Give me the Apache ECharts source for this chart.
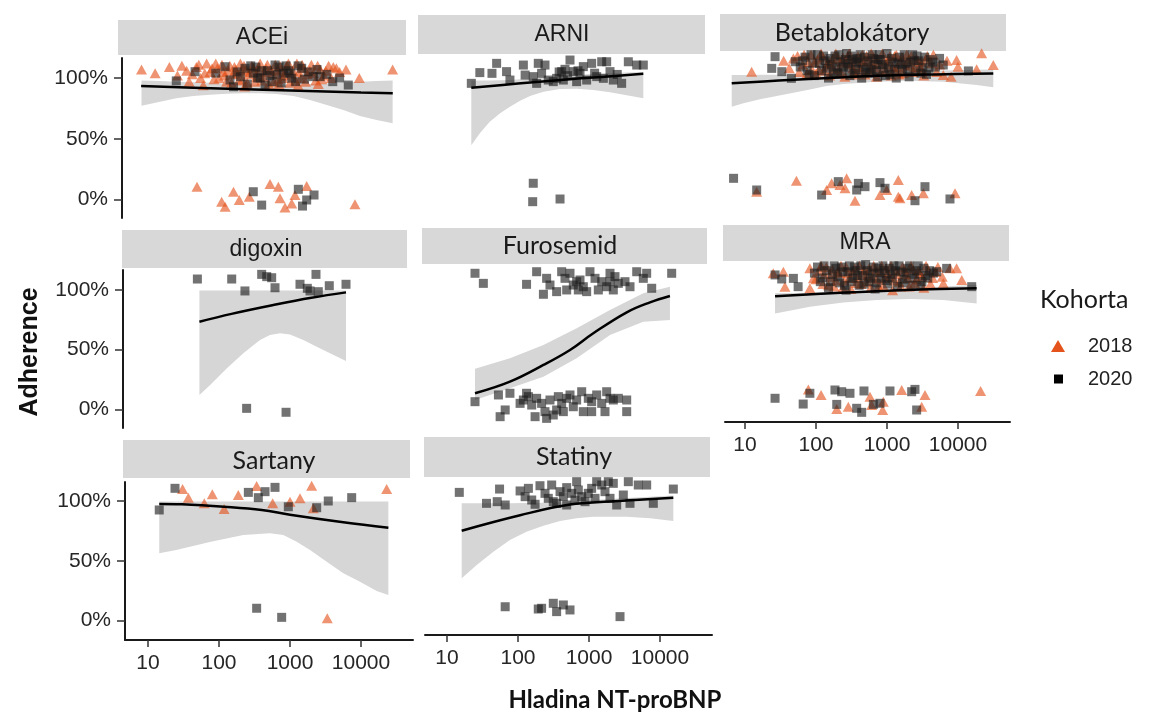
<!DOCTYPE html>
<html>
<head>
<meta charset="utf-8">
<script src="https://cdn.jsdelivr.net/npm/echarts@6/dist/echarts.min.js"></script>
<style>
  html, body { margin: 0; background: #fff; }
  #chart { width: 1149px; height: 717px; }
</style>
</head>
<body>
<div id="chart"></div>
<script>
// ---- data: x = NT-proBNP, y = adherence (jittered, 1 = 100 %) ----
const panelNames = ["ACEi", "ARNI", "Betablokátory", "digoxin", "Furosemid", "MRA", "Sartany", "Statiny"];
const xTickValues = [10, 100, 1000, 10000];
const xTickLabels = ["10", "100", "1000", "10000"];
const yTickValues = [0, 0.5, 1];
const yTickLabels = ["0%", "50%", "100%"];

const acei2018 = [
  [8.1,1.07],[12.6,1.04],[20,1.09],[26,1.02],[30,1.10],[35,1.06],[38,0.97],[42,1.03],[48,1.09],[52,1.11],[55,1.0],[60,0.94],
  [63,1.04],[67,1.12],[75,1.05],[80,1.08],[85,0.99],[90,1.12],[95,1.08],[100,1.0],[110,1.11],[115,1.05],[120,1.02],[128,0.97],
  [135,1.06],[142,1.1],[150,0.96],[158,1.03],[165,1.09],[172,1.07],[180,1.04],[190,0.98],[200,1.12],[208,1.06],[215,0.99],
  [225,1.1],[230,0.93],[240,1.07],[250,0.96],[260,1.03],[275,1.05],[290,1.10],[305,1.08],[320,0.97],[335,1.01],[350,1.05],
  [365,1.09],[380,1.12],[400,0.98],[420,1.01],[440,1.05],[460,1.08],[480,1.11],[500,0.95],[530,1.07],[560,1.04],[590,0.97],
  [620,1.11],[650,1.06],[680,0.99],[700,0.95],[720,1.1],[750,1.07],[790,1.0],[820,1.02],[860,1.05],[900,1.10],[950,1.12],
  [1000,0.96],[1050,1.03],[1100,1.06],[1180,0.98],[1250,1.12],[1300,0.94],[1330,1.05],[1400,1.0],[1480,1.11],[1550,1.08],
  [1650,0.97],[1750,1.03],[1900,1.06],[2000,1.11],[2150,1.04],[2300,0.98],[2450,1.1],[2500,0.95],[2650,1.07],[2800,0.99],
  [3000,1.02],[3200,1.06],[3500,1.10],[3800,1.0],[4070,1.09],[4500,1.08],[5000,1.05],[6150,1.07],[9460,1.0],[27900,1.07],
  [49,0.105],[109,-0.018],[122,-0.06],[160,0.064],[193,-0.004],[267,0.023],[523,0.128],[685,0.105],[723,0.01],[850,-0.065],
  [1057,-0.032],[1175,0.037],[1718,0.111],[8220,-0.04]
];
const acei2020 = [
  [25,0.976],[46,1.052],[90,1.04],[122,1.093],[143,0.984],[160,0.928],[180,1.05],[200,1.01],[232,1.08],[250,0.95],[280,1.10],
  [304,1.039],[330,1.09],[350,1.0],[380,1.0],[400,1.06],[445,0.942],[480,1.06],[520,1.02],[560,0.97],[615,1.107],[650,1.03],
  [700,1.09],[750,0.96],[805,1.039],[880,1.1],[950,1.06],[1000,1.04],[1057,0.998],[1200,0.97],[1300,1.1],[1461,1.08],
  [1600,0.99],[1800,1.05],[2130,1.011],[2400,1.07],[2650,1.011],[3300,1.03],[4000,0.97],[5000,1.0],[6620,0.942],
  [304,0.064],[399,-0.046],[1310,0.084],[1500,-0.054],[1718,-0.004],[2180,0.037]
];
const aceiFit = [[8,0.934],[100,0.914],[1000,0.897],[10000,0.880],[28000,0.874]];
const aceiBand = [
  [8.1,0.772,0.98],[14.8,0.805,0.975],[25,0.833,0.97],[43.5,0.852,0.965],[75,0.863,0.96],[128,0.871,0.955],[220,0.874,0.95],
  [378,0.874,0.945],[648,0.868,0.945],[1115,0.852,0.945],[1914,0.819,0.95],[3290,0.778,0.955],[5640,0.737,0.962],
  [9680,0.687,0.97],[16600,0.654,0.975],[27900,0.627,0.98]
];

const arni2018 = [];
const arni2020 = [
  [22,0.907],[29,0.995],[43,0.989],[50,1.071],[69,1.003],[77,0.934],[119,1.057],[126,0.975],[164,0.962],[183,0.907],[193,1.071],
  [215,0.989],[240,1.057],[267,0.934],[314,0.921],[350,0.948],[380,1.0],[412,1.003],[435,0.934],[459,1.022],[500,0.97],[540,1.098],
  [601,1.003],[670,0.921],[700,1.01],[747,0.989],[832,1.044],[927,0.934],[1090,1.071],[1200,0.99],[1283,0.962],[1510,1.084],
  [1592,0.948],[1774,1.084],[1976,1.003],[2200,0.934],[2500,0.98],[2883,0.907],[3580,1.084],[4700,1.057],[5820,1.057],
  [164,0.088],[161,-0.063],[391,-0.041]
];
const arniFit = [[22,0.87],[100,0.905],[400,0.935],[1500,0.96],[5820,0.985]];
const arniBand = [
  [22,0.40,0.93],[29,0.497,0.93],[40,0.593,0.93],[56,0.661,0.932],[77,0.716,0.935],[107,0.765,0.94],[148,0.803,0.945],
  [228,0.839,0.955],[391,0.861,0.965],[670,0.863,0.975],[1150,0.852,0.985],[1976,0.833,0.99],[3396,0.809,0.995],[5820,0.784,1.0]
];

const beta2018 = [
  [12.4,0.962],[35,1.05],[42,0.99],[48,1.07],[55,1.09],[58,0.96],[65,1.02],[68,1.1],[75,0.95],[78,1.04],[85,1.10],[88,0.98],
  [95,1.04],[100,0.95],[105,1.06],[110,0.98],[118,1.11],[125,1.08],[130,0.97],[140,1.01],[148,1.04],[155,0.93],[160,1.03],
  [170,1.06],[175,0.98],[190,1.11],[200,1.07],[210,0.99],[220,0.95],[230,1.04],[240,1.08],[255,0.92],[265,1.03],[280,1.09],
  [295,1.11],[310,1.02],[320,1.05],[330,0.99],[340,0.96],[355,0.94],[370,1.07],[390,1.09],[410,1.0],[420,0.97],[430,1.05],
  [450,1.10],[470,1.04],[490,0.94],[515,1.09],[540,1.05],[560,0.97],[590,0.99],[600,1.11],[620,1.02],[650,1.08],[680,1.0],
  [710,0.92],[740,1.06],[780,1.03],[820,0.96],[860,1.11],[900,1.05],[950,0.97],[1000,1.02],[1050,1.06],[1100,1.09],[1150,0.93],
  [1200,1.0],[1280,1.09],[1300,0.98],[1350,1.1],[1400,1.0],[1480,0.94],[1550,1.05],[1620,1.08],[1700,0.95],[1800,1.01],
  [1900,1.10],[2000,1.06],[2100,1.02],[2200,1.09],[2350,0.96],[2450,1.0],[2600,1.07],[2750,1.05],[2900,1.0],[3000,1.04],
  [3100,0.98],[3300,0.93],[3500,1.06],[3700,1.09],[4200,1.03],[4500,1.1],[5000,0.96],[5500,1.02],[6200,0.935],[7000,1.05],
  [8000,0.92],[9550,1.057],[10000,1.003],[18300,0.981],[21500,1.111],[31400,1.016],
  [14.6,-0.014],[53,0.076],[141,0.0],[166,0.054],[218,0.041],[256,0.014],[270,0.095],[354,-0.087],[796,-0.041],[989,0.0],
  [1443,0.081],[1443,-0.054],[1523,-0.068],[2225,-0.041],[3250,-0.027],[9080,-0.027]
];
const beta2020 = [
  [23.8,0.989],[26.5,1.084],[33,0.962],[45,0.908],[51,1.043],[60,1.0],[65,1.05],[70,1.08],[75,0.97],[80,0.94],[85,1.1],
  [90,1.03],[95,0.93],[105,1.10],[112,1.03],[120,0.97],[128,1.09],[135,1.05],[142,0.99],[150,0.91],[158,1.07],[165,1.02],
  [175,0.95],[185,1.09],[190,1.0],[200,0.95],[210,1.1],[220,1.04],[232,0.96],[245,1.0],[258,1.06],[270,1.11],[280,1.03],
  [290,1.0],[300,0.93],[315,1.09],[330,1.06],[345,0.95],[360,0.98],[370,1.04],[380,1.07],[400,1.03],[420,1.1],[440,0.91],
  [460,0.98],[480,1.08],[500,0.96],[520,1.0],[540,1.05],[570,0.95],[600,0.98],[620,1.10],[650,1.07],[680,1.02],[710,0.97],
  [740,0.92],[750,1.06],[780,1.1],[820,1.06],[860,1.02],[900,0.99],[950,0.93],[1000,1.11],[1050,1.0],[1100,0.94],[1150,1.07],
  [1200,1.04],[1280,0.98],[1350,0.91],[1420,1.03],[1500,1.08],[1600,1.02],[1650,0.98],[1750,1.1],[1850,1.03],[1950,0.98],
  [2050,0.92],[2150,1.04],[2300,1.1],[2400,1.05],[2550,0.97],[2650,1.09],[2800,1.05],[3000,0.95],[3200,1.0],[3400,1.08],
  [3600,0.94],[3900,0.99],[4100,1.06],[4400,1.04],[4800,1.0],[5500,1.07],[6200,1.016],[14000,0.968],
  [6.9,0.095],[14.6,0.0],[120,-0.041],[206,0.068],[374,0.0],[395,0.054],[490,0.027],[796,0.06],[937,0.014],[2478,-0.087],
  [3427,0.027],[7710,-0.073]
];
const betaFit = [[6.5,0.867],[30,0.89],[150,0.91],[1000,0.93],[5000,0.94],[31400,0.948]];
const betaBand = [
  [6.5,0.677,0.935],[9.5,0.705,0.935],[16.3,0.737,0.936],[28,0.764,0.938],[48,0.791,0.94],[82,0.818,0.942],[141,0.846,0.945],
  [243,0.862,0.948],[716,0.881,0.955],[2090,0.889,0.965],[6210,0.881,0.972],[18300,0.854,0.978],[31400,0.835,0.98]
];

const digoxin2018 = [];
const digoxin2020 = [
  [49.6,1.092],[151,1.092],[232,0.992],[399,1.131],[470,1.112],[552,1.103],[615,1.019],[1383,1.048],[1754,1.014],[1914,0.992],
  [2323,1.131],[2504,0.986],[3575,1.036],[6150,1.048],
  [245,0.008],[880,-0.025]
];
const digoxinFit = [[53,0.734],[150,0.80],[582,0.874],[2000,0.935],[6150,0.98]];
const digoxinBand = [
  [53,0.12,0.995],[75,0.204,0.995],[128,0.343,0.995],[220,0.469,0.995],[378,0.581,0.995],[523,0.623,0.995],[723,0.637,0.995],
  [1000,0.628,0.995],[1542,0.581,0.995],[2377,0.525,0.995],[3660,0.469,0.995],[6150,0.405,0.995]
];

const furo2018 = [];
const furo2020 = [
  [24.8,1.106],[32.5,1.022],[132,1.014],[183,1.119],[228,0.931],[253,1.064],[282,1.008],[350,0.953],[412,1.119],[459,1.064],
  [485,0.967],[540,1.106],[601,1.008],[670,1.036],[707,0.967],[747,1.05],[832,0.994],[927,0.953],[1032,1.119],[1216,1.064],
  [1353,0.967],[1510,1.036],[1774,0.994],[1976,1.106],[1976,1.036],[2200,0.967],[2323,1.078],[2587,1.022],[3213,1.036],
  [3780,0.994],[4700,1.119],[5820,1.064],[6490,1.106],[7640,0.981],[14600,1.106],
  [24.8,0.036],[53,0.092],[56,-0.089],[66,-0.033],[77,0.106],[107,0.022],[119,0.05],[132,0.106],[140,0.078],[156,0.008],
  [174,-0.089],[183,0.064],[215,0.022],[240,-0.047],[253,-0.103],[282,0.05],[314,-0.075],[350,-0.033],[370,0.078],[412,0.022],
  [435,-0.047],[485,0.064],[540,0.092],[601,-0.006],[670,0.05],[789,0.119],[832,-0.047],[977,0.064],[1090,0.036],[1090,-0.047],
  [1283,0.092],[1510,0.022],[1680,-0.047],[1774,0.119],[1976,0.064],[2200,0.05],[2587,0.064],[3396,0.05],[3396,-0.047]
];
const furoFit = [[24.8,0.106],[77,0.203],[228,0.342],[540,0.467],[1150,0.606],[3400,0.781],[7230,0.864],[13800,0.917]];
const furoBand = [
  [24.8,0.05,0.31],[77,0.147,0.397],[228,0.244,0.508],[670,0.397,0.647],[1976,0.592,0.8],[5820,0.703,0.939],[13800,0.717,0.994]
];

const mra2018 = [
  [25,1.038],[34.7,1.052],[36.5,0.929],[82,1.079],[82,0.915],[92,0.997],[100,0.99],[110,1.06],[118,1.1],[125,0.95],[132,1.03],
  [140,1.09],[150,0.94],[160,1.01],[170,1.07],[180,0.93],[190,0.98],[200,1.05],[212,1.04],[225,1.1],[238,0.92],[250,0.98],
  [265,1.09],[280,1.04],[295,1.0],[310,0.91],[330,1.05],[350,1.08],[370,0.96],[390,1.0],[410,1.1],[430,0.95],[455,1.03],
  [480,1.07],[505,0.97],[530,1.02],[560,1.08],[590,0.92],[620,1.0],[650,1.1],[690,1.06],[720,0.99],[760,0.93],[800,1.05],
  [840,1.1],[880,0.94],[925,1.0],[970,1.08],[1020,1.04],[1080,1.01],[1140,1.1],[1200,0.9],[1260,0.98],[1330,1.06],[1400,1.03],
  [1480,0.97],[1560,0.93],[1650,1.09],[1750,1.07],[1850,1.03],[1950,1.0],[2050,0.93],[2180,1.1],[2300,1.07],[2450,0.96],
  [2600,0.99],[2750,1.06],[2900,1.04],[3100,1.01],[3300,0.92],[3550,1.1],[3800,1.06],[4100,0.95],[4400,1.0],[4800,1.05],
  [5200,1.09],[6000,1.01],[6210,0.956],[7710,1.079],[9550,1.079],[11300,0.984],
  [78,0.087],[118,0.041],[196,-0.074],[285,-0.055],[576,0.027],[608,-0.041],[869,-0.082],[887,-0.014],[1610,0.082],[3079,-0.055],
  [3427,0.041],[20800,0.074]
];
const mra2020 = [
  [26.5,1.025],[32.9,0.992],[48,0.997],[56,0.929],[95,1.04],[105,1.09],[115,0.97],[122,1.0],[130,1.1],[140,1.06],[150,0.92],
  [160,0.97],[170,1.03],[180,1.1],[190,1.08],[203,1.01],[215,0.96],[228,1.09],[240,1.05],[252,0.94],[265,0.9],[280,1.05],
  [295,1.1],[312,0.97],[330,1.0],[348,1.09],[365,1.06],[385,1.02],[405,0.94],[428,1.1],[450,1.02],[475,0.95],[500,1.11],
  [528,1.06],[555,0.97],[585,1.0],[615,1.04],[648,1.09],[680,0.91],[715,0.96],[750,1.08],[790,1.04],[830,1.0],[875,1.1],
  [920,1.06],[970,0.98],[1020,0.95],[1075,1.08],[1130,1.03],[1190,1.0],[1250,1.1],[1320,1.06],[1400,0.93],[1480,1.1],
  [1560,1.05],[1650,0.96],[1740,0.99],[1850,1.04],[1950,1.08],[2080,1.1],[2200,0.94],[2320,1.0],[2450,1.03],[2600,1.06],
  [2750,1.1],[2950,0.94],[3100,0.97],[3300,1.08],[3500,1.02],[3750,1.0],[4000,1.06],[4500,1.04],[5010,1.052],[6920,1.079],
  [15600,0.929],
  [26.5,0.014],[66,-0.033],[82,0.055],[185,0.082],[196,-0.036],[230,0.068],[301,0.055],[374,-0.068],[440,-0.101],[474,0.074],
  [642,-0.036],[796,-0.027],[1101,0.074],[2225,0.068],[2478,0.087],[2616,-0.082]
];
const mraFit = [[26.5,0.85],[100,0.868],[500,0.888],[3000,0.905],[18300,0.915]];
const mraBand = [
  [26.5,0.71,0.875],[48,0.738,0.878],[82,0.765,0.88],[243,0.8,0.89],[716,0.82,0.9],[2090,0.828,0.915],[6210,0.82,0.93],[18300,0.792,0.945]
];

const sartany2018 = [
  [30.7,1.1],[37,1.028],[62,0.981],[80.5,1.056],[118,0.933],[187,1.05],[339,1.125],[570,0.981],[1000,0.994],[1383,1.022],
  [2018,1.128],[2130,0.939],[23000,1.1],
  [3350,0.02]
];
const sartany2020 = [
  [14.4,0.925],[24,1.106],[259,1.072],[358,1.028],[445,1.078],[615,1.114],[947,0.952],[2375,0.944],[3460,1.0],[7390,1.028],
  [339,0.104],[763,0.028]
];
const sartanyFit = [[14.4,0.975],[30,0.972],[118,0.952],[400,0.925],[1000,0.885],[5640,0.822],[24300,0.777]];
const sartanyBand = [
  [14.4,0.563,0.995],[25,0.59,0.995],[77,0.66,0.995],[220,0.716,0.995],[523,0.73,0.995],[805,0.716,0.995],[1242,0.66,0.995],
  [1914,0.591,0.995],[3290,0.493,0.995],[5640,0.396,0.995],[9680,0.326,0.995],[16600,0.248,0.995],[24300,0.215,0.995]
];

const statiny2018 = [];
const statiny2020 = [
  [14.9,1.022],[36,0.93],[51,0.944],[55,1.05],[66,0.916],[107,1.034],[126,0.986],[140,1.056],[156,0.958],[174,0.922],[204,1.078],
  [240,1.014],[267,0.972],[298,1.084],[314,0.944],[350,0.93],[391,1.028],[435,0.986],[485,1.062],[485,0.916],[570,1.014],
  [635,0.958],[670,1.112],[707,1.042],[789,0.986],[880,0.944],[977,1.014],[1090,1.056],[1216,0.972],[1283,1.112],[1510,1.084],
  [1680,1.028],[1870,1.112],[1976,0.972],[2200,1.098],[2455,0.916],[3044,1.0],[3580,1.112],[3780,0.93],[4940,1.084],
  [6490,1.084],[8050,0.93],[15400,1.05],
  [66,0.061],[193,0.042],[215,0.048],[314,0.09],[350,0.02],[435,0.076],[540,0.034],[2734,-0.022]
];
const statinyFit = [[16.1,0.70],[107,0.83],[540,0.92],[1976,0.945],[15400,0.977]];
const statinyBand = [
  [16.1,0.30,0.93],[26.2,0.412,0.93],[45,0.524,0.93],[77,0.622,0.93],[132,0.692,0.932],[228,0.742,0.935],[391,0.782,0.94],
  [670,0.804,0.948],[1150,0.818,0.958],[3396,0.818,0.975],[7230,0.804,0.985],[15400,0.782,0.995]
];

const points2018 = [acei2018, arni2018, beta2018, digoxin2018, furo2018, mra2018, sartany2018, statiny2018];
const points2020 = [acei2020, arni2020, beta2020, digoxin2020, furo2020, mra2020, sartany2020, statiny2020];
const fits = [aceiFit, arniFit, betaFit, digoxinFit, furoFit, mraFit, sartanyFit, statinyFit];
const bands = [aceiBand, arniBand, betaBand, digoxinBand, furoBand, mraBand, sartanyBand, statinyBand];

// ---- layout (pixels) ----
const DECADE = 71; // px per decade on every x axis
const ARIAL = '"Liberation Sans", Arial, sans-serif';
const CALIBRI = 'Lato, "Open Sans", sans-serif';
const layout = [
  { left: 122, right: 406, top: 58, bottom: 218, x10: 148, y100: 78, y0: 199.5, showY: true, showX: false, strip: [118, 20, 288, 35], lab: [262, 38], font: "23px " + ARIAL },
  { left: 418, right: 705, top: 56, bottom: 216, x10: 447, y100: 72, y0: 194, showY: false, showX: false, strip: [418, 15, 287, 39], lab: [562, 35], font: "23px " + ARIAL },
  { left: 720, right: 1006, top: 53, bottom: 213, x10: 745, y100: 67, y0: 190, showY: false, showX: false, strip: [720, 14, 286, 37], lab: [852, 33], font: "25px " + CALIBRI },
  { left: 123, right: 407, top: 270, bottom: 428, x10: 148, y100: 290, y0: 409.3, showY: true, showX: false, strip: [122, 230, 285, 38], lab: [266, 250], font: "23px " + ARIAL },
  { left: 422, right: 707, top: 266, bottom: 426, x10: 447, y100: 286, y0: 406, showY: false, showX: false, strip: [422, 228, 285, 36], lab: [560, 246], font: "25px " + CALIBRI },
  { left: 725, right: 1010, top: 263, bottom: 422, x10: 745, y100: 278, y0: 400, showY: false, showX: true, strip: [723, 225, 286, 36], lab: [865, 243], font: "23px " + ARIAL },
  { left: 125, right: 413, top: 482, bottom: 640, x10: 148, y100: 501, y0: 620.7, showY: true, showX: true, strip: [123, 440, 287, 38], lab: [274, 461], font: "25px " + CALIBRI },
  { left: 425, right: 712, top: 480, bottom: 635, x10: 447, y100: 495, y0: 614, showY: false, showX: true, strip: [424, 437, 286, 40], lab: [574, 457], font: "25px " + CALIBRI }
];

const xTickLogs = xTickValues.map((v) => Math.log10(v));
const toXY = (rows) => rows.map((r) => [Math.log10(r[0]), r[1]]);

const grids = [], xAxes = [], yAxes = [], series = [], graphics = [];

layout.forEach((p, i) => {
  grids.push({ left: p.left, top: p.top, width: p.right - p.left, height: p.bottom - p.top });

  xAxes.push({
    type: "value",
    gridIndex: i,
    min: 1 + (p.left - p.x10) / DECADE,
    max: 1 + (p.right - p.x10) / DECADE,
    show: p.showX,
    axisLine: { show: true, onZero: false, lineStyle: { color: "#1a1a1a", width: 2 } },
    axisTick: { show: true, customValues: xTickLogs, length: 7, lineStyle: { color: "#333", width: 1.5 } },
    axisLabel: {
      show: true,
      customValues: xTickLogs,
      margin: 13,
      fontSize: 21,
      fontFamily: ARIAL,
      color: "#262626",
      formatter: (v) => xTickLabels[xTickLogs.findIndex((t) => Math.abs(t - v) < 1e-6)] || "",
    },
    splitLine: { show: false },
  });

  const span = p.y0 - p.y100;
  yAxes.push({
    type: "value",
    gridIndex: i,
    min: (p.y0 - p.bottom) / span,
    max: (p.y0 - p.top) / span,
    show: p.showY,
    axisLine: { show: true, onZero: false, lineStyle: { color: "#1a1a1a", width: 2 } },
    axisTick: { show: true, customValues: yTickValues, length: 8, lineStyle: { color: "#333", width: 1.5 } },
    axisLabel: {
      show: true,
      customValues: yTickValues,
      margin: 14,
      fontSize: 21,
      fontFamily: ARIAL,
      color: "#262626",
      formatter: (v) => yTickLabels[yTickValues.findIndex((t) => Math.abs(t - v) < 1e-6)] || "",
    },
    splitLine: { show: false },
  });

  // confidence band as one polygon through the axis scales
  const bandRows = bands[i].map((r) => [Math.log10(r[0]), r[1], r[2]]);
  series.push({
    type: "custom", xAxisIndex: i, yAxisIndex: i, z: 1, silent: true,
    data: bandRows,
    encode: { x: 0, y: [1, 2] },
    renderItem: (params, api) => {
      if (params.dataIndex !== 0) return null;
      const upper = bandRows.map((r) => api.coord([r[0], r[2]]));
      const lower = bandRows.slice().reverse().map((r) => api.coord([r[0], r[1]]));
      return {
        type: "polygon",
        shape: { points: upper.concat(lower) },
        style: { fill: "#d6d6d6" },
      };
    },
  });

  series.push({
    type: "scatter", name: "2018", xAxisIndex: i, yAxisIndex: i, z: 2,
    data: toXY(points2018[i]),
    symbol: "triangle", symbolSize: [11, 10],
    itemStyle: { color: "#e4531b", opacity: 0.62 },
  });
  series.push({
    type: "scatter", name: "2020", xAxisIndex: i, yAxisIndex: i, z: 2,
    data: toXY(points2020[i]),
    symbol: "rect", symbolSize: 9,
    itemStyle: { color: "#1c1c1c", opacity: 0.62 },
  });

  series.push({
    type: "line", xAxisIndex: i, yAxisIndex: i, z: 3,
    data: toXY(fits[i]),
    symbol: "none", smooth: 0.4, silent: true,
    lineStyle: { color: "#000", width: 2.5 },
  });

  // facet strip
  graphics.push({
    type: "rect",
    shape: { x: p.strip[0], y: p.strip[1], width: p.strip[2], height: p.strip[3] },
    style: { fill: "#d8d8d8" },
    silent: true,
  });
  graphics.push({
    type: "text",
    x: p.lab[0], y: p.lab[1],
    style: { text: panelNames[i], font: p.font, fill: "#1a1a1a", align: "center", verticalAlign: "middle", textAlign: "center", textVerticalAlign: "middle" },
    silent: true,
  });
});

graphics.push({
  type: "text", x: 1040, y: 300,
  style: { text: "Kohorta", font: "25px " + CALIBRI, fill: "#1a1a1a", align: "left", verticalAlign: "middle", textAlign: "left", textVerticalAlign: "middle" },
});
graphics.push({
  type: "text", x: 30, y: 352, rotation: Math.PI / 2,
  style: { text: "Adherence", font: "bold 25px " + ARIAL, fill: "#111", align: "center", verticalAlign: "middle", textAlign: "center", textVerticalAlign: "middle" },
});
graphics.push({
  type: "text", x: 615, y: 700,
  style: { text: "Hladina NT-proBNP", font: "bold 24px " + CALIBRI, fill: "#111", align: "center", verticalAlign: "middle", textAlign: "center", textVerticalAlign: "middle" },
});

const chart = echarts.init(document.getElementById("chart"));
chart.setOption({
  animation: false,
  backgroundColor: "#fff",
  grid: grids,
  xAxis: xAxes,
  yAxis: yAxes,
  legend: [
    {
      left: 1046, top: 331, itemWidth: 14, itemHeight: 12, selectedMode: false,
      data: [{ name: "2018", icon: "triangle", itemStyle: { color: "#e4531b", opacity: 1 } }],
      textStyle: { fontSize: 20, fontFamily: ARIAL, color: "#222", padding: [0, 0, 0, 18] },
    },
    {
      left: 1049, top: 364, itemWidth: 9, itemHeight: 9, selectedMode: false,
      data: [{ name: "2020", icon: "rect", itemStyle: { color: "#000", opacity: 1 } }],
      textStyle: { fontSize: 20, fontFamily: ARIAL, color: "#222", padding: [0, 0, 0, 20] },
    },
  ],
  graphic: graphics,
  series: series,
});
</script>
</body>
</html>
